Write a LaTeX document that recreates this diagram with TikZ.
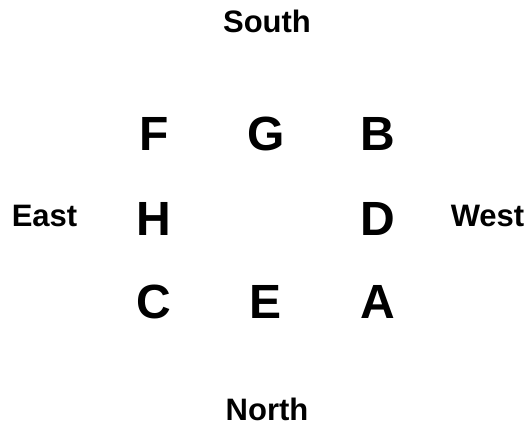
\documentclass[tikz,border=0pt]{standalone}
\usepackage{fontspec}
\setmainfont{Liberation Sans}
\usetikzlibrary{positioning}

\begin{document}
\begin{tikzpicture}[
    x=1pt, y=-1pt,
    side/.style={inner sep=0pt, anchor=base, font=\fontsize{31}{36}\selectfont\bfseries},
    spot/.style={inner sep=0pt, anchor=base, font=\fontsize{48}{56}\selectfont\bfseries},
]
\useasboundingbox (0, 0) rectangle (529, 425);

\node[side] (south) at (267, 33) {South};
\node[side] (north) at (267, 420) {North};
\node[side] (east) at (44.5, 226) {East};
\node[side] (west) at (487.5, 226) {West};

\node[spot] (f) at (154, 150) {F};
\node[spot] (g) at (266, 150) {G};
\node[spot] (b) at (378, 150) {B};

\node[spot] (h) at (154, 235) {H};
\node[spot] (d) at (378, 235) {D};

\node[spot] (c) at (154, 318) {C};
\node[spot] (e) at (266, 318) {E};
\node[spot] (a) at (378, 318) {A};

\end{tikzpicture}
\end{document}
